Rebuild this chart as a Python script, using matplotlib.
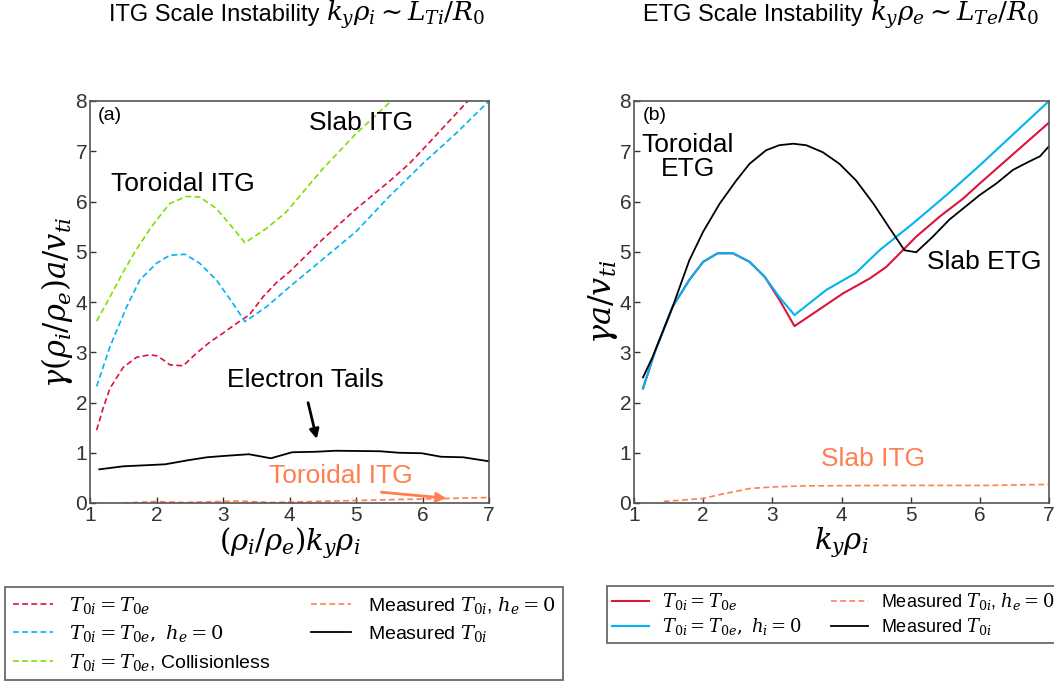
import matplotlib
matplotlib.use("Agg")
import matplotlib.pyplot as plt

plt.rcParams['font.family'] = ['Liberation Sans', 'DejaVu Sans']
plt.rcParams['mathtext.fontset'] = 'dejavuserif'

# ---------------- Panel (a) data ----------------
a_red_x = [1.1, 1.2, 1.3, 1.5, 1.7, 1.9, 2.0, 2.1, 2.2, 2.4, 2.6, 2.8, 3.0, 3.2, 3.4, 3.6, 3.8, 4.0, 4.5, 5.0, 5.5, 5.8, 6.0, 6.5, 7.0]
a_red_y = [1.45, 1.9, 2.28, 2.7, 2.9, 2.95, 2.93, 2.85, 2.75, 2.73, 2.98, 3.2, 3.38, 3.57, 3.75, 4.1, 4.38, 4.6, 5.25, 5.85, 6.4, 6.75, 7.03, 7.74, 8.45]

a_blue_x = [1.1, 1.3, 1.55, 1.75, 2.0, 2.2, 2.43, 2.65, 2.9, 3.15, 3.33, 3.65, 4.0, 4.5, 5.0, 5.5, 6.0, 6.5, 7.0]
a_blue_y = [2.32, 3.11, 3.9, 4.44, 4.77, 4.93, 4.95, 4.77, 4.44, 3.97, 3.61, 3.9, 4.3, 4.85, 5.4, 6.1, 6.75, 7.35, 8.0]

a_green_x = [1.1, 1.3, 1.5, 1.7, 1.9, 2.0, 2.2, 2.45, 2.65, 2.9, 3.1, 3.33, 3.65, 3.95, 4.5, 5.0, 5.53, 6.0, 6.5, 7.0]
a_green_y = [3.62, 4.1, 4.6, 5.05, 5.45, 5.63, 5.96, 6.1, 6.09, 5.86, 5.55, 5.18, 5.46, 5.79, 6.65, 7.35, 8.0, 8.7, 9.4, 10.1]

a_meas_he0_x = [1.5, 1.99, 2.4, 3.24, 3.72, 4.69, 5.65, 6.37, 7.0]
a_meas_he0_y = [0.0, 0.03, 0.01, 0.04, 0.01, 0.04, 0.07, 0.09, 0.11]

a_meas_x = [1.14, 1.5, 2.13, 2.47, 2.76, 3.05, 3.39, 3.72, 4.04, 4.4, 4.69, 5.36, 5.65, 5.99, 6.28, 6.61, 7.0]
a_meas_y = [0.67, 0.73, 0.77, 0.85, 0.91, 0.94, 0.97, 0.89, 1.01, 1.02, 1.04, 1.03, 1.0, 0.99, 0.92, 0.91, 0.83]

# ---------------- Panel (b) data ----------------
b_red_x = [1.13, 1.3, 1.56, 1.8, 2.0, 2.21, 2.43, 2.67, 2.89, 3.1, 3.32, 3.59, 4.02, 4.41, 4.65, 5.08, 5.42, 5.76, 6.0, 7.0]
b_red_y = [2.28, 3.0, 3.91, 4.44, 4.8, 4.97, 4.97, 4.8, 4.5, 4.05, 3.52, 3.77, 4.17, 4.47, 4.7, 5.3, 5.7, 6.06, 6.36, 7.57]

b_blue_x = [1.13, 1.3, 1.56, 1.8, 2.0, 2.21, 2.43, 2.67, 2.89, 3.1, 3.32, 3.78, 4.21, 4.55, 5.03, 5.52, 6.0, 7.0]
b_blue_y = [2.28, 3.0, 3.91, 4.44, 4.8, 4.97, 4.97, 4.8, 4.5, 4.1, 3.74, 4.24, 4.58, 5.03, 5.56, 6.13, 6.72, 8.0]

b_meas_he0_x = [1.43, 2.0, 2.25, 2.68, 3.02, 3.45, 4.66, 6.1, 7.0]
b_meas_he0_y = [0.03, 0.09, 0.17, 0.29, 0.32, 0.34, 0.35, 0.35, 0.37]

b_meas_x = [1.13, 1.27, 1.56, 1.8, 2.0, 2.24, 2.48, 2.67, 2.91, 3.1, 3.3, 3.49, 3.73, 3.97, 4.21, 4.46, 4.7, 4.91, 5.08, 5.32, 5.56, 6.0, 6.24, 6.48, 6.72, 6.87, 7.0]
b_meas_y = [2.5, 2.91, 3.91, 4.83, 5.4, 5.96, 6.42, 6.75, 7.02, 7.12, 7.15, 7.12, 6.98, 6.75, 6.42, 5.96, 5.46, 5.03, 4.99, 5.3, 5.64, 6.13, 6.36, 6.63, 6.8, 6.9, 7.1]

x_ticks = [1, 2, 3, 4, 5, 6, 7]
y_ticks = [0, 1, 2, 3, 4, 5, 6, 7, 8]

RED = '#dc143c'
BLUE = '#00b4f0'
GREEN = '#7fe000'
ORANGE = '#ff7f50'
BLACK = '#000000'
GRAY = '#333333'

W, H = 1054, 683
fig = plt.figure(figsize=(W / 100, H / 100), dpi=100)

def px_axes(l, t, r, b):
    return fig.add_axes([l / W, (H - b) / H, (r - l) / W, (b - t) / H])

axA = px_axes(90, 101, 489, 503)
axB = px_axes(634, 101, 1049, 503)

dash = (0, (3.5, 2.0))
lA_red, = axA.plot(a_red_x, a_red_y, color=RED, lw=1.2, ls=dash, label=r'$T_{0i} = T_{0e}$')
lA_blue, = axA.plot(a_blue_x, a_blue_y, color=BLUE, lw=1.2, ls=dash, label=r'$T_{0i} = T_{0e},\ h_e = 0$')
lA_green, = axA.plot(a_green_x, a_green_y, color=GREEN, lw=1.2, ls=dash, label=r'$T_{0i} = T_{0e}$, Collisionless')
lA_or, = axA.plot(a_meas_he0_x, a_meas_he0_y, color=ORANGE, lw=1.2, ls=dash, label=r'Measured $T_{0i}$, $h_e = 0$')
lA_bk, = axA.plot(a_meas_x, a_meas_y, color=BLACK, lw=1.3, label=r'Measured $T_{0i}$')

lB_red, = axB.plot(b_red_x, b_red_y, color=RED, lw=1.5, label=r'$T_{0i} = T_{0e}$')
lB_blue, = axB.plot(b_blue_x, b_blue_y, color=BLUE, lw=1.5, label=r'$T_{0i} = T_{0e},\ h_i = 0$')
lB_or, = axB.plot(b_meas_he0_x, b_meas_he0_y, color=ORANGE, lw=1.2, ls=dash, label=r'Measured $T_{0i}$, $h_e = 0$')
lB_bk, = axB.plot(b_meas_x, b_meas_y, color=BLACK, lw=1.3, label=r'Measured $T_{0i}$')

for ax in (axA, axB):
    ax.set_xlim(1, 7)
    ax.set_ylim(0, 8)
    ax.set_xticks(x_ticks)
    ax.set_yticks(y_ticks)
    ax.tick_params(direction='in', length=4, width=1, labelsize=15, colors=GRAY, pad=2)
    for s in ax.spines.values():
        s.set_color('#555555')
        s.set_linewidth(1.2)

# annotations panel (a)
axA.text(1.11, 7.72, '(a)', fontsize=14, ha='left', va='center')
axA.text(2.39, 6.34, 'Toroidal ITG', fontsize=19, ha='center', va='center')
axA.text(5.07, 7.56, 'Slab ITG', fontsize=19, ha='center', va='center')
axA.text(4.24, 2.45, 'Electron Tails', fontsize=19, ha='center', va='center')
axA.annotate('', xy=(4.42, 1.22), xytext=(4.27, 2.05),
             arrowprops=dict(arrowstyle='-|>', color=BLACK, lw=2.0, mutation_scale=14))
axA.text(4.77, 0.54, 'Toroidal ITG', fontsize=19, ha='center', va='center', color=ORANGE)
axA.annotate('', xy=(6.4, 0.09), xytext=(5.34, 0.22),
             arrowprops=dict(arrowstyle='-|>', color=ORANGE, lw=2.0, mutation_scale=14))

# annotations panel (b)
axB.text(1.13, 7.72, '(b)', fontsize=14, ha='left', va='center')
axB.text(1.78, 6.88, 'Toroidal\nETG', fontsize=19, ha='center', va='center', linespacing=1.0)
axB.text(6.06, 4.8, 'Slab ETG', fontsize=19, ha='center', va='center')
axB.text(4.45, 0.87, 'Slab ITG', fontsize=19, ha='center', va='center', color=ORANGE)

# axis labels
axA.set_ylabel(r'$\gamma(\rho_i/\rho_e)a/v_{ti}$', fontsize=22)
axA.yaxis.set_label_coords(-0.083, 0.5)
axA.yaxis.label.set_va('center')
axA.set_xlabel(r'$(\rho_i/\rho_e)k_y\rho_i$', fontsize=21)
axA.xaxis.set_label_coords(0.5, -0.1)
axA.xaxis.label.set_va('center')

axB.set_ylabel(r'$\gamma a/v_{ti}$', fontsize=23)
axB.yaxis.set_label_coords(-0.075, 0.5)
axB.yaxis.label.set_va('center')
axB.set_xlabel(r'$k_y\rho_i$', fontsize=21)
axB.xaxis.set_label_coords(0.5, -0.1)
axB.xaxis.label.set_va('center')

# titles: sans text followed by math, centred as a whole
renderer = fig.canvas.get_renderer()
def title(cx, txt, mth):
    y = 1 - 21 / H
    t1 = fig.text(0, y, txt, fontsize=17, ha='left', va='baseline')
    t2 = fig.text(0, y, mth, fontsize=19, ha='left', va='baseline')
    w1 = t1.get_window_extent(renderer).width
    w2 = t2.get_window_extent(renderer).width
    x0 = cx - (w1 + w2) / 2
    t1.set_x(x0 / W)
    t2.set_x((x0 + w1) / W)

title(297, 'ITG Scale Instability ', r'$k_y\rho_i \sim L_{Ti}/R_0$')
title(841, 'ETG Scale Instability ', r'$k_y\rho_e \sim L_{Te}/R_0$')

# legends
legA = fig.legend(handles=[lA_red, lA_blue, lA_green, lA_or, lA_bk], ncol=2,
                  loc='upper left', bbox_to_anchor=(5 / W, 1 - 587 / H),
                  fontsize=14, frameon=True, fancybox=False,
                  edgecolor='#444444', handlelength=2.06, handletextpad=0.85,
                  labelspacing=0.38, borderpad=0.4, borderaxespad=0.0, columnspacing=2.1)
legA.get_frame().set_linewidth(1.3)

legB = fig.legend(handles=[lB_red, lB_blue, lB_or, lB_bk], ncol=2,
                  loc='upper left', bbox_to_anchor=(607 / W, 1 - 586 / H),
                  fontsize=13, frameon=True, fancybox=False,
                  edgecolor='#444444', handlelength=2.05, handletextpad=0.72,
                  labelspacing=0.22, borderpad=0.3, borderaxespad=0.0, columnspacing=1.6)
legB.get_frame().set_linewidth(1.3)

fig.savefig('out.png', dpi=100)
